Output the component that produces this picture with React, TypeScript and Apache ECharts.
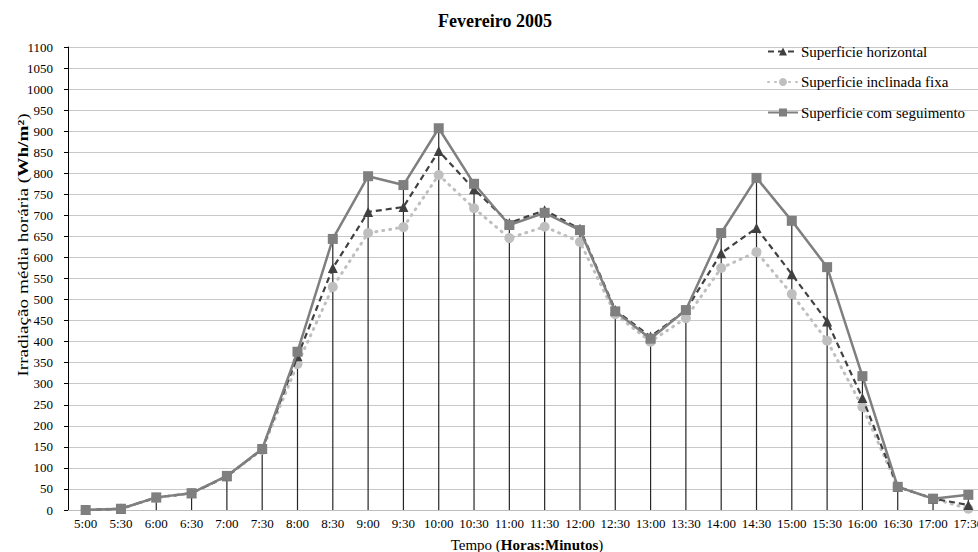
import React, { useEffect, useRef } from "react";
import * as echarts from "echarts";

const categories = ["5:00","5:30","6:00","6:30","7:00","7:30","8:00","8:30","9:00","9:30","10:00","10:30","11:00","11:30","12:00","12:30","13:00","13:30","14:00","14:30","15:00","15:30","16:00","16:30","17:00","17:30"];
const horizontal = [0,3,30,40,80,145,365,575,708,720,853,762,682,712,668,475,412,475,610,670,560,448,266,55,27,12];
const inclinada = [0,3,29,40,80,143,347,530,658,672,796,717,646,673,637,465,400,456,575,613,513,402,245,55,27,3];
const seguimento = [0,3,30,40,81,145,376,644,793,772,907,775,677,706,665,472,407,475,658,789,687,577,318,55,27,36];
const yTicks = { min: 0, max: 1100, interval: 50 };

const FONT = "'Liberation Serif', 'Times New Roman', serif";

export default function App() {
  const ref = useRef<HTMLDivElement>(null);
  useEffect(() => {
    if (!ref.current) return;
    const chart = echarts.init(ref.current, undefined, { renderer: "svg" });
    const drops = categories.map((_, i) => Math.max(horizontal[i], inclinada[i], seguimento[i]));
    chart.setOption({
      animation: false,
      backgroundColor: "#ffffff",
      textStyle: { fontFamily: FONT },
      title: {
        text: "Fevereiro 2005",
        left: 495,
        textAlign: "center",
        top: 12,
        padding: 0,
        textStyle: { fontFamily: FONT, fontSize: 18, fontWeight: "bold", color: "#000" },
      },
      legend: {
        orient: "vertical",
        left: 767,
        top: 44,
        padding: 0,
        itemGap: 15.5,
        itemWidth: 30,
        itemHeight: 10,
        data: ["Superficie horizontal", "Superficie inclinada fixa", "Superficie com seguimento"],
        textStyle: { fontFamily: FONT, fontSize: 15, color: "#000", padding: [0, 0, 0, -2] },
      },
      grid: { left: 68, right: -8, top: 47, bottom: 42, containLabel: false, outerBoundsMode: "none" },
      xAxis: {
        type: "category",
        data: categories,
        boundaryGap: true,
        axisLine: { show: true, lineStyle: { color: "#bfbfbf", width: 1 } },
        axisTick: { show: false },
        axisLabel: { fontFamily: FONT, fontSize: 13, color: "#000", margin: 7, interval: 0 },
        splitLine: { show: false },
        name: "{a|Tempo (}{b|Horas:Minutos}{a|)}",
        nameLocation: "middle",
        nameGap: 27,
        nameTextStyle: {
          rich: {
            a: { fontFamily: FONT, fontSize: 15, color: "#000" },
            b: { fontFamily: FONT, fontSize: 15, color: "#000", fontWeight: "bold" },
          },
        },
      },
      yAxis: {
        type: "value",
        min: yTicks.min,
        max: yTicks.max,
        interval: yTicks.interval,
        axisLine: { show: true, lineStyle: { color: "#000", width: 1 } },
        axisTick: { show: true, length: 4, lineStyle: { color: "#000" } },
        axisLabel: { fontFamily: FONT, fontSize: 13, color: "#000", margin: 15, formatter: (v: number) => String(v) },
        splitLine: { show: true, lineStyle: { color: "#c8c8c8", width: 1 } },
      },
      graphic: [
        {
          type: "text",
          x: 23,
          y: 245,
          rotation: Math.PI / 2,
          scaleX: 1.28,
          style: {
            text: "{a|Irradiação média horária (}{b|Wh/m²}{a|)}",
            align: "center",
            verticalAlign: "middle",
            rich: {
              a: { fontFamily: FONT, fontSize: 15, fill: "#000" },
              b: { fontFamily: FONT, fontSize: 15, fill: "#000", fontWeight: "bold" },
            },
          },
        },
      ],
      series: [
        {
          name: "drop",
          type: "bar",
          data: drops,
          barWidth: 1.2,
          silent: true,
          itemStyle: { color: "#262626" },
          z: 1,
        },
        {
          name: "Superficie horizontal",
          type: "line",
          data: horizontal,
          symbol: "triangle",
          symbolSize: 10,
          lineStyle: { color: "#404040", width: 2.2, type: [6, 4] },
          itemStyle: { color: "#404040" },
          z: 3,
        },
        {
          name: "Superficie inclinada fixa",
          type: "line",
          data: inclinada,
          symbol: "circle",
          symbolSize: 10,
          lineStyle: { color: "#bfbfbf", width: 3, type: [1, 6], cap: "round" },
          itemStyle: { color: "#bfbfbf" },
          z: 2,
        },
        {
          name: "Superficie com seguimento",
          type: "line",
          data: seguimento,
          symbol: "rect",
          symbolSize: 10,
          lineStyle: { color: "#7f7f7f", width: 2.5 },
          itemStyle: { color: "#7f7f7f" },
          z: 4,
        },
      ],
    });
    return () => chart.dispose();
  }, []);
  return (
    <div
      ref={ref}
      style={{ position: "absolute", left: 0, top: 0, width: 978, height: 552, overflow: "hidden" }}
    />
  );
}
